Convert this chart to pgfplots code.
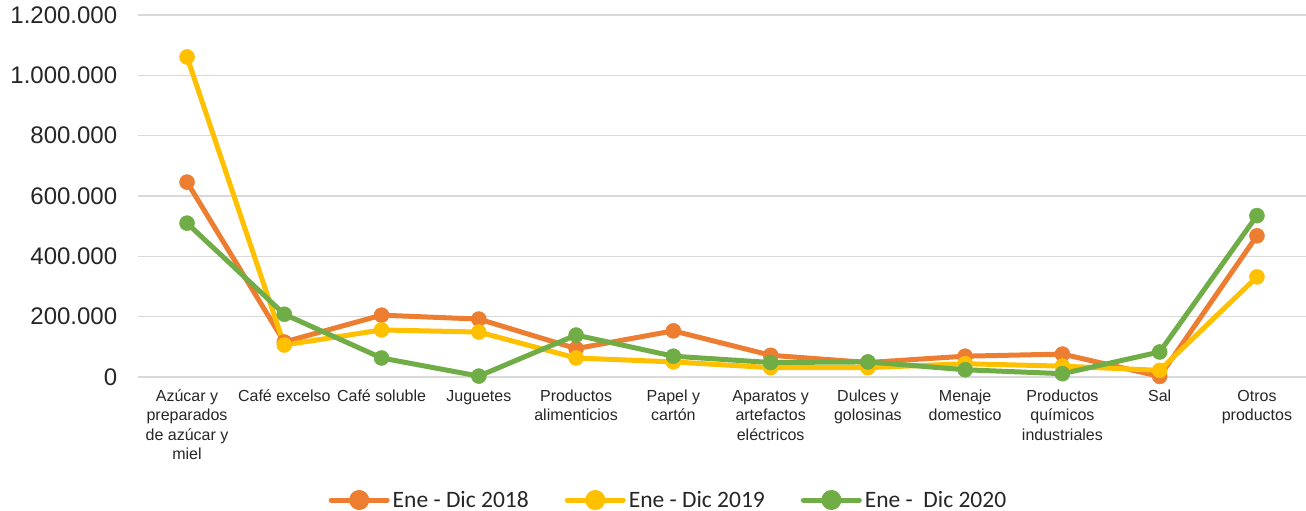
\documentclass[border=0pt]{standalone}
\usepackage{pgfplots}
\pgfplotsset{compat=1.18}
\usepackage{fontspec}
\setmainfont{Liberation Sans}
\newfontfamily\carlito{Carlito}
\definecolor{c18}{HTML}{ED7D31}
\definecolor{c19}{HTML}{FFC000}
\definecolor{c20}{HTML}{70AD47}
\definecolor{gridgray}{HTML}{D9D9D9}
\begin{document}
\begin{tikzpicture}
\useasboundingbox (-138.4bp,-134bp) rectangle (1167.6bp,377bp);
\begin{axis}[
  scale only axis,
  width=1167.2bp, height=362bp,
  xmin=-0.5, xmax=11.5,
  ymin=0, ymax=1200000,
  clip=false,
  axis line style={draw=none},
  major tick length=0pt,
  ymajorgrids,
  grid style={draw=gridgray, line width=1.5bp},
  ytick={0,200000,400000,600000,800000,1000000,1200000},
  scaled y ticks=false,
  /pgf/number format/.cd, fixed, precision=0, 1000 sep={.}, assume math mode=true,
  /pgfplots/.cd,
  yticklabel style={font={\fontsize{24bp}{28bp}\selectfont}, color=black!85, inner sep=0pt, anchor=east, xshift=-21bp, yshift=-2.5bp},
  xtick={0,1,2,3,4,5,6,7,8,9,10,11},
  typeset ticklabels with strut,
  xticklabel style={font={\fontsize{16bp}{19.2bp}\selectfont}, color=black!85, align=center, inner sep=0pt, anchor=north, yshift=-11bp},
  xticklabels={{Azúcar y\\preparados\\de azúcar y\\miel},{Café excelso},{Café soluble},{Juguetes},{Productos\\alimenticios},{Papel y\\cartón},{Aparatos y\\artefactos\\eléctricos},{Dulces y\\golosinas},{Menaje\\domestico},{Productos\\químicos\\industriales},{Sal},{Otros\\productos}},
  legend columns=3,
  legend style={draw=none, fill=none, at={(axis description cs:0.4533,-0.3398)}, anchor=center,
    font={\carlito\fontsize{23.5bp}{28bp}\selectfont}, text=black!85,
    nodes={inner sep=0pt},
    /tikz/every odd column/.append style={column sep=3bp},
    /tikz/every even column/.append style={column sep=36bp}},
  legend image code/.code={
    \draw[line width=5bp, line cap=round] (0bp,0bp) -- (56bp,0bp);
    \fill (28bp,0bp) circle (7.5bp);
  },
  every axis plot/.append style={line width=5bp, line join=round, mark=*, mark size=7.5bp, mark options={line width=0.5bp}},
]
\addplot[color=c18] coordinates {(0,646000) (1,116000) (2,205000) (3,192000) (4,94000) (5,153000) (6,72000) (7,48000) (8,69000) (9,76000) (10,2000) (11,468000)};
\addlegendentry{Ene - Dic 2018}
\addplot[color=c19] coordinates {(0,1061000) (1,106000) (2,156000) (3,149000) (4,63000) (5,50000) (6,31000) (7,31000) (8,44000) (9,36000) (10,22000) (11,332000)};
\addlegendentry{Ene - Dic 2019}
\addplot[color=c20] coordinates {(0,510000) (1,208000) (2,63000) (3,3000) (4,139000) (5,69000) (6,48000) (7,50000) (8,24000) (9,11000) (10,83000) (11,535000)};
\addlegendentry{Ene -\ \ Dic 2020}
\end{axis}
\end{tikzpicture}
\end{document}
